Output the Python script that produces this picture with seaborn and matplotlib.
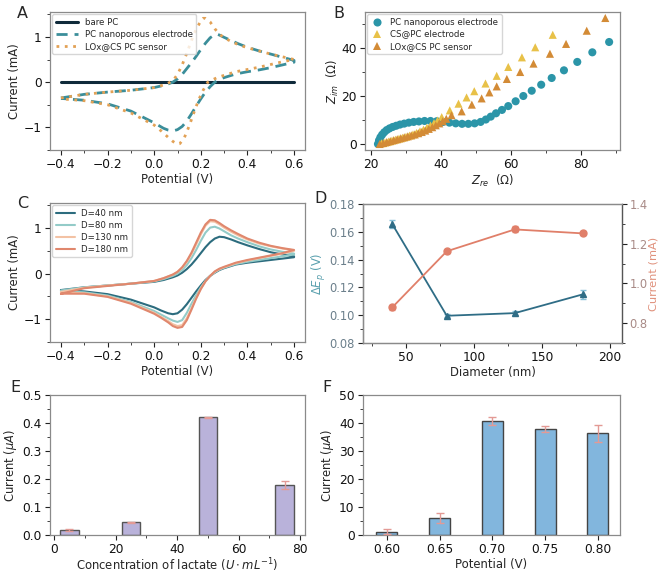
import matplotlib
matplotlib.use("Agg")
import matplotlib.pyplot as plt
import seaborn as sns
import numpy as np
import pandas as pd
from matplotlib.ticker import AutoMinorLocator

sns.set_style("ticks")
plt.rcParams['font.family'] = ['DejaVu Sans']
plt.rcParams['axes.edgecolor'] = '#8a8a8a'
plt.rcParams['axes.linewidth'] = 0.9
plt.rcParams['xtick.color'] = '#222222'
plt.rcParams['ytick.color'] = '#222222'
plt.rcParams['xtick.labelcolor'] = '#111111'
plt.rcParams['ytick.labelcolor'] = '#111111'
plt.rcParams['mathtext.fontset'] = 'dejavusans'

# ---------------- Panel A data (CV) ----------------
A_E_fwd = [-0.4, -0.3, -0.2, -0.1, 0.0, 0.05, 0.08, 0.1, 0.12, 0.14, 0.16, 0.18, 0.2, 0.22, 0.24, 0.26, 0.27, 0.28, 0.3, 0.33, 0.36, 0.4, 0.45, 0.5, 0.55, 0.6]
A_pc_fwd = [-0.35, -0.27, -0.22, -0.18, -0.12, -0.06, 0.0, 0.07, 0.17, 0.3, 0.43, 0.57, 0.72, 0.86, 0.98, 1.05, 1.06, 1.04, 0.99, 0.92, 0.85, 0.77, 0.69, 0.62, 0.55, 0.48]
A_E_rev = [0.6, 0.55, 0.5, 0.45, 0.4, 0.35, 0.3, 0.28, 0.26, 0.24, 0.22, 0.2, 0.18, 0.16, 0.14, 0.12, 0.1, 0.08, 0.06, 0.04, 0.0, -0.1, -0.2, -0.3, -0.4]
A_pc_rev = [0.44, 0.38, 0.32, 0.27, 0.23, 0.18, 0.1, 0.06, 0.0, -0.1, -0.22, -0.37, -0.53, -0.7, -0.86, -0.98, -1.05, -1.08, -1.06, -1.02, -0.9, -0.64, -0.48, -0.4, -0.36]
A_E_fwd2 = [-0.4, -0.3, -0.2, -0.1, 0.0, 0.05, 0.08, 0.1, 0.12, 0.14, 0.16, 0.18, 0.2, 0.21, 0.22, 0.24, 0.26, 0.28, 0.3, 0.33, 0.36, 0.4, 0.45, 0.5, 0.55, 0.6]
A_lox_fwd = [-0.35, -0.27, -0.22, -0.18, -0.12, -0.05, 0.03, 0.17, 0.38, 0.64, 0.92, 1.17, 1.35, 1.41, 1.41, 1.33, 1.18, 1.06, 0.98, 0.9, 0.83, 0.76, 0.69, 0.62, 0.56, 0.5]
A_E_rev2 = [0.6, 0.55, 0.5, 0.45, 0.4, 0.35, 0.3, 0.27, 0.25, 0.23, 0.21, 0.19, 0.17, 0.15, 0.13, 0.11, 0.1, 0.08, 0.06, 0.03, 0.0, -0.1, -0.2, -0.3, -0.4]
A_lox_rev = [0.5, 0.45, 0.39, 0.33, 0.28, 0.23, 0.15, 0.1, 0.05, 0.0, -0.18, -0.4, -0.68, -0.97, -1.22, -1.36, -1.37, -1.31, -1.22, -1.08, -0.95, -0.68, -0.5, -0.41, -0.37]
A_bare_E = [-0.4, 0.6]
A_bare_I = [0.0, 0.0]
A_labels = ['bare PC', 'PC nanoporous electrode', 'LOx@CS PC sensor']

# ---------------- Panel B data (Nyquist) ----------------
B_pc_zre = [22.0, 22.3, 22.7, 23.2, 23.8, 24.5, 25.3, 26.2, 27.2, 28.3, 29.5, 30.8, 32.2, 33.7, 35.3, 37.0, 38.8, 40.6, 42.4, 44.2, 46.0, 47.8, 49.6, 51.3, 52.8, 54.2, 55.7, 57.4, 59.2, 61.3, 63.5, 65.9, 68.6, 71.6, 75.1, 78.9, 83.2, 88.0]
B_pc_zim = [0.0, 1.5, 2.8, 3.9, 4.9, 5.8, 6.5, 7.1, 7.6, 8.1, 8.5, 8.9, 9.2, 9.4, 9.6, 9.6, 9.5, 9.2, 8.9, 8.6, 8.4, 8.4, 8.6, 9.2, 10.2, 11.4, 12.8, 14.2, 15.8, 17.8, 20.0, 22.2, 24.7, 27.5, 30.7, 34.2, 38.2, 42.5]
B_cs_zre = [23, 24, 25, 26, 27, 28, 29, 30, 31, 32, 33, 34, 35, 36, 37, 38, 39, 40.2, 42.5, 45.0, 47.3, 49.5, 52.7, 55.9, 59.2, 63.1, 66.9, 71.9]
B_cs_zim = [0.3, 0.6, 1.0, 1.4, 1.8, 2.2, 2.6, 3.0, 3.5, 4.0, 4.6, 5.3, 6.0, 6.8, 7.7, 8.7, 9.8, 11.2, 14.0, 16.8, 19.4, 22.0, 25.2, 28.4, 32.1, 36.1, 40.3, 45.5]
B_lox_zre = [22.5, 23.5, 24.5, 25.5, 26.5, 27.5, 28.5, 29.5, 30.5, 31.5, 32.5, 33.5, 34.5, 35.5, 36.5, 37.5, 38.5, 39.5, 40.5, 41.5, 43.0, 45.9, 48.8, 51.6, 53.8, 55.9, 58.8, 62.6, 66.4, 71.1, 75.7, 81.6, 86.9]
B_lox_zim = [0.0, 0.4, 0.8, 1.2, 1.6, 2.0, 2.4, 2.8, 3.2, 3.6, 4.0, 4.5, 5.0, 5.6, 6.3, 7.0, 7.8, 8.6, 9.5, 10.5, 12.0, 13.6, 16.4, 19.0, 21.5, 24.0, 27.1, 30.0, 33.5, 37.6, 41.7, 47.2, 52.5]
B_labels = ['PC nanoporous electrode', 'CS@PC electrode', 'LOx@CS PC sensor']

# ---------------- Panel C data (CV vs diameter) ----------------
C_E_fwd = [-0.4, -0.3, -0.2, -0.1, 0.0, 0.04, 0.08, 0.1, 0.12, 0.14, 0.16, 0.18, 0.2, 0.22, 0.24, 0.26, 0.28, 0.3, 0.33, 0.36, 0.4, 0.45, 0.5, 0.55, 0.6]
C_E_rev = [0.6, 0.55, 0.5, 0.45, 0.4, 0.35, 0.3, 0.28, 0.26, 0.24, 0.22, 0.2, 0.18, 0.16, 0.14, 0.12, 0.1, 0.08, 0.06, 0.03, 0.0, -0.1, -0.2, -0.3, -0.4]
C_d40_fwd = [-0.36, -0.3, -0.26, -0.22, -0.18, -0.14, -0.08, -0.04, 0.02, 0.1, 0.2, 0.32, 0.45, 0.58, 0.69, 0.77, 0.81, 0.8, 0.75, 0.69, 0.62, 0.54, 0.47, 0.42, 0.38]
C_d40_rev = [0.36, 0.33, 0.3, 0.27, 0.24, 0.2, 0.12, 0.08, 0.02, -0.05, -0.14, -0.26, -0.39, -0.53, -0.67, -0.79, -0.87, -0.89, -0.87, -0.81, -0.74, -0.57, -0.45, -0.39, -0.36]
C_d80_fwd = [-0.37, -0.3, -0.26, -0.22, -0.17, -0.12, -0.05, 0.0, 0.08, 0.19, 0.34, 0.52, 0.72, 0.9, 1.01, 1.03, 0.99, 0.93, 0.84, 0.77, 0.69, 0.6, 0.53, 0.48, 0.44]
C_d80_rev = [0.42, 0.38, 0.34, 0.3, 0.26, 0.21, 0.13, 0.09, 0.03, -0.05, -0.16, -0.3, -0.47, -0.66, -0.86, -1.02, -1.06, -1.03, -0.98, -0.9, -0.82, -0.62, -0.48, -0.41, -0.38]
C_d130_fwd = [-0.4, -0.31, -0.26, -0.22, -0.16, -0.1, -0.02, 0.04, 0.13, 0.26, 0.43, 0.64, 0.86, 1.05, 1.15, 1.14, 1.08, 1.01, 0.92, 0.84, 0.75, 0.66, 0.6, 0.55, 0.51]
C_d130_rev = [0.5, 0.44, 0.39, 0.34, 0.29, 0.23, 0.14, 0.1, 0.04, -0.05, -0.17, -0.33, -0.53, -0.76, -0.98, -1.13, -1.15, -1.11, -1.04, -0.95, -0.86, -0.64, -0.5, -0.43, -0.42]
C_d180_fwd = [-0.44, -0.32, -0.27, -0.22, -0.16, -0.1, -0.02, 0.04, 0.14, 0.28, 0.46, 0.68, 0.9, 1.08, 1.18, 1.17, 1.11, 1.04, 0.95, 0.87, 0.77, 0.68, 0.61, 0.56, 0.52]
C_d180_rev = [0.52, 0.45, 0.4, 0.35, 0.3, 0.24, 0.15, 0.11, 0.05, -0.05, -0.17, -0.34, -0.55, -0.79, -1.02, -1.17, -1.19, -1.15, -1.07, -0.97, -0.88, -0.66, -0.51, -0.44, -0.44]
C_labels = ["D=40 nm", "D=80 nm", "D=130 nm", "D=180 nm"]

# ---------------- Panel D data ----------------
D_diam = [40, 80, 130, 180]
D_dEp = [0.1654, 0.0996, 0.1015, 0.1150]
D_dEp_err = [0.003, 0.001, 0.0015, 0.003]
D_cur = [0.88, 1.162, 1.272, 1.252]
D_cur_err = [0.012, 0.008, 0.015, 0.01]

# ---------------- Panel E data ----------------
E_conc = [5, 25, 50, 75]
E_cur = [0.018, 0.045, 0.420, 0.178]
E_err = [0.002, 0.001, 0.002, 0.014]

# ---------------- Panel F data ----------------
F_pot = ["0.60", "0.65", "0.70", "0.75", "0.80"]
F_cur = [1.2, 6.0, 40.8, 37.9, 36.3]
F_err = [0.8, 1.7, 1.4, 1.2, 3.0]

fig = plt.figure(figsize=(6.6, 5.74), dpi=100)
W, H = 660, 574
def box(l, r, t, b):
    return [l / W, 1 - b / H, (r - l) / W, (b - t) / H]

TICK = 8.8
TICK_D = 8.3
LAB = 8.4
LEG = 6.2

def style(ax, size=TICK):
    ax.tick_params(axis='both', which='major', labelsize=size, length=3.5, width=0.8, direction='out', pad=2.5)
    ax.tick_params(axis='both', which='minor', length=2, width=0.6, direction='out')
    ax.xaxis.set_minor_locator(AutoMinorLocator(2))
    ax.yaxis.set_minor_locator(AutoMinorLocator(2))

legkw = dict(loc='upper left', fontsize=LEG, frameon=True, borderaxespad=0.25, labelspacing=0.35,
             borderpad=0.4, handletextpad=0.8)

# ---- A ----
axA = fig.add_axes(box(50, 305, 12, 150))
axA.plot(A_bare_E, A_bare_I, color='#0f2a3a', lw=2.2, label=A_labels[0])
axA.plot(A_E_fwd + A_E_rev, A_pc_fwd + A_pc_rev, color='#3b8e9a', lw=2.0, ls=(0, (4, 2.5)), label=A_labels[1])
axA.plot(A_E_fwd2 + A_E_rev2, A_lox_fwd + A_lox_rev, color='#e2a155', lw=2.0, ls=(0, (1, 2)), label=A_labels[2])
axA.set_xlim(-0.447, 0.647)
axA.set_ylim(-1.5, 1.55)
axA.set_xticks([-0.4, -0.2, 0.0, 0.2, 0.4, 0.6])
axA.set_yticks([-1, 0, 1])
axA.set_xlabel('Potential (V)', fontsize=LAB, labelpad=1)
axA.set_ylabel('Current (mA)', fontsize=LAB, labelpad=2)
style(axA)
axA.legend(handlelength=2.6, **legkw)

# ---- B ----
axB = fig.add_axes(box(365, 620, 12, 150))
dfB = pd.concat([
    pd.DataFrame({'zre': B_pc_zre, 'zim': B_pc_zim, 's': B_labels[0]}),
    pd.DataFrame({'zre': B_cs_zre, 'zim': B_cs_zim, 's': B_labels[1]}),
    pd.DataFrame({'zre': B_lox_zre, 'zim': B_lox_zim, 's': B_labels[2]}),
])
sns.scatterplot(data=dfB, x='zre', y='zim', hue='s', style='s',
                palette={B_labels[0]: '#2b95a8', B_labels[1]: '#e8c148', B_labels[2]: '#d38b36'},
                markers={B_labels[0]: 'o', B_labels[1]: '^', B_labels[2]: '^'},
                s=34, linewidth=0, ax=axB)
axB.set_xlim(18.3, 91.1)
axB.set_ylim(-2.5, 55)
axB.set_xticks([20, 40, 60, 80])
axB.set_yticks([0, 20, 40])
axB.set_xlabel(r'$Z_{re}$  ($\Omega$)', fontsize=LAB, labelpad=1)
axB.set_ylabel(r'$Z_{im}$  ($\Omega$)', fontsize=LAB, labelpad=0)
style(axB)
axB.legend(title=None, handlelength=1.5, **legkw)

# ---- C ----
axC = fig.add_axes(box(50, 305, 203, 342))
C_colors = ['#2c6c7e', '#93cbc8', '#f3c2a4', '#e0876d']
C_fwd = [C_d40_fwd, C_d80_fwd, C_d130_fwd, C_d180_fwd]
C_rev = [C_d40_rev, C_d80_rev, C_d130_rev, C_d180_rev]
for lab, col, f, r in zip(C_labels, C_colors, C_fwd, C_rev):
    axC.plot(C_E_fwd + C_E_rev, f + r, color=col, lw=1.5, label=lab)
axC.set_xlim(-0.447, 0.647)
axC.set_ylim(-1.5, 1.55)
axC.set_xticks([-0.4, -0.2, 0.0, 0.2, 0.4, 0.6])
axC.set_yticks([-1, 0, 1])
axC.set_xlabel('Potential (V)', fontsize=LAB, labelpad=1)
axC.set_ylabel('Current (mA)', fontsize=LAB, labelpad=2)
style(axC)
axC.legend(handlelength=2.2, **legkw)

# ---- D ----
axD = fig.add_axes(box(363, 622, 204, 343))
axD.errorbar(D_diam, D_dEp, yerr=D_dEp_err, color='#2f6d86', ecolor='#86c0d8', elinewidth=1.2,
             capsize=2.5, marker='^', ms=5, lw=1.3, zorder=3)
axD.set_xlim(18.4, 208.8)
axD.set_ylim(0.08, 0.18)
axD.set_xticks([50, 100, 150, 200])
axD.set_yticks([0.08, 0.10, 0.12, 0.14, 0.16, 0.18])
axD.set_xlabel('Diameter (nm)', fontsize=LAB, labelpad=1)
axD.set_ylabel(r'$\Delta E_p$ (V)', fontsize=LAB, color='#5aa0ae', labelpad=1)
style(axD, TICK_D)
axD.tick_params(axis='x', labelsize=TICK)
axD.tick_params(axis='y', labelcolor='#6b7f8b')
axD2 = axD.twinx()
axD2.errorbar(D_diam, D_cur, yerr=D_cur_err, color='#e07f69', ecolor='#f0b0a0', elinewidth=1.2,
              capsize=2.5, marker='o', ms=5, lw=1.3, zorder=3)
axD2.set_ylim(0.7, 1.4)
axD2.set_yticks([0.8, 1.0, 1.2, 1.4])
axD2.set_ylabel('Current (mA)', fontsize=LAB - 0.2, color='#e0917c', labelpad=0.5)
axD2.tick_params(axis='y', which='major', labelsize=TICK_D, length=3.5, width=0.8, labelcolor='#a88a86', pad=2)
axD2.tick_params(axis='y', which='minor', length=2, width=0.6)
axD2.yaxis.set_minor_locator(AutoMinorLocator(2))
axD2.spines['right'].set_color('#555555')
axD.spines['left'].set_color('#555555')

# ---- E ----
axE = fig.add_axes(box(50, 305, 395, 535))
dfE = pd.DataFrame({'conc': E_conc, 'cur': E_cur})
sns.barplot(data=dfE, x='conc', y='cur', native_scale=True, width=0.3, color='#b9b2da',
            edgecolor='#555555', linewidth=1.0, errorbar=None, saturation=1, ax=axE)
axE.errorbar(E_conc, E_cur, yerr=E_err, fmt='none', ecolor='#e39a95', elinewidth=1.0, capsize=3, zorder=4)
axE.set_xlim(-1.3, 81.6)
axE.set_ylim(0, 0.5)
axE.set_xticks([0, 20, 40, 60, 80])
axE.set_yticks([0.0, 0.1, 0.2, 0.3, 0.4, 0.5])
axE.set_xlabel(r'Concentration of lactate ($U\cdot mL^{-1}$)', fontsize=LAB, labelpad=0)
axE.set_ylabel(r'Current ($\mu A$)', fontsize=LAB, labelpad=2)
style(axE)

# ---- F ----
axF = fig.add_axes(box(363, 620, 395, 535))
dfF = pd.DataFrame({'pot': F_pot, 'cur': F_cur})
sns.barplot(data=dfF, x='pot', y='cur', order=F_pot, width=0.4, color='#82b6dd',
            edgecolor='#444444', linewidth=1.0, errorbar=None, saturation=1, ax=axF)
axF.errorbar(range(len(F_pot)), F_cur, yerr=F_err, fmt='none', ecolor='#e39a95', elinewidth=1.0, capsize=3, zorder=4)
axF.set_xlim(-0.45, 4.42)
axF.set_ylim(0, 50)
axF.set_yticks([0, 10, 20, 30, 40, 50])
axF.set_xlabel('Potential (V)', fontsize=LAB, labelpad=1)
axF.set_ylabel(r'Current ($\mu A$)', fontsize=LAB, labelpad=2)
axF.tick_params(axis='both', which='major', labelsize=TICK, length=3.5, width=0.8, pad=2.5)
axF.yaxis.set_minor_locator(AutoMinorLocator(2))
axF.tick_params(axis='y', which='minor', length=2, width=0.6)

for ax in [axA, axB, axC, axD, axE, axF]:
    for s in ['top', 'right']:
        ax.spines[s].set_visible(True)

# panel letters
for letter, x, y in [('A', 17, 13), ('B', 333, 13), ('C', 17, 203), ('D', 314, 199), ('E', 10, 388), ('F', 322, 388)]:
    fig.text(x / W, 1 - y / H, letter, fontsize=11.5, ha='left', va='center')

fig.savefig('out.png', dpi=100)
